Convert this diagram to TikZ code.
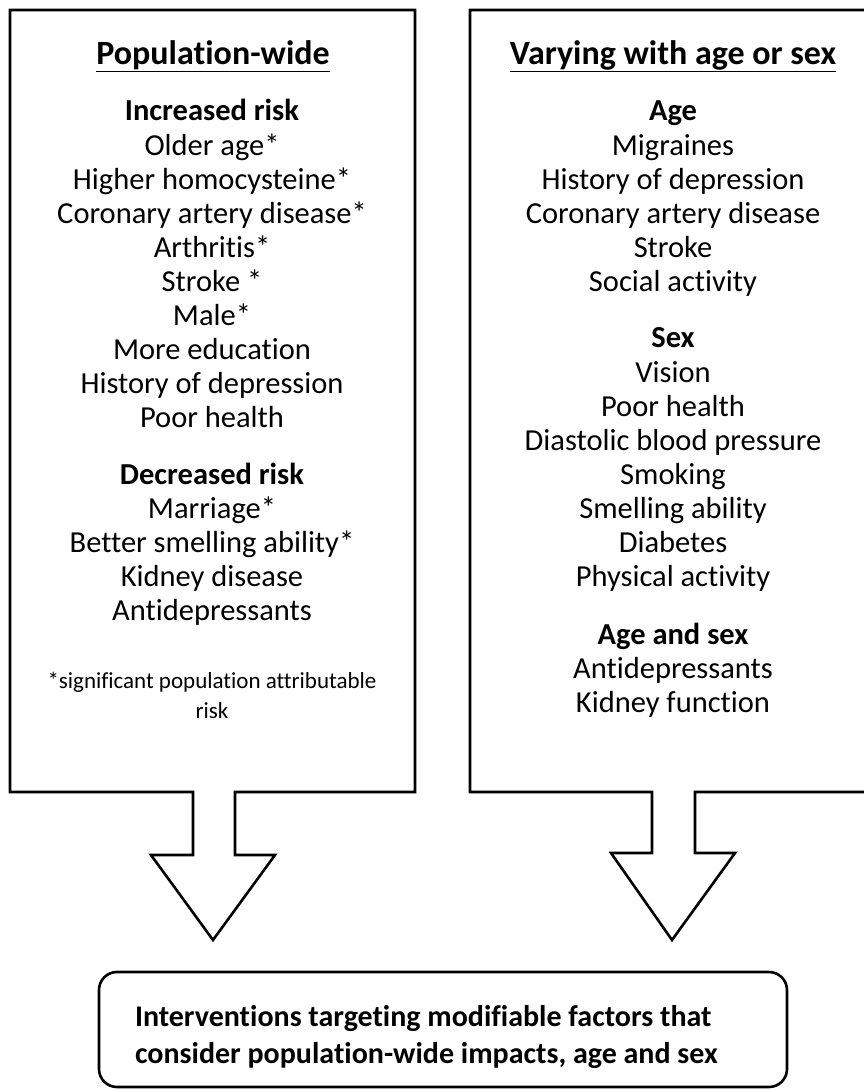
\documentclass[tikz,border=0pt]{standalone}
\usepackage{fontspec}
\setmainfont{Carlito}[Ligatures=NoCommon]
\usetikzlibrary{positioning}

\begin{document}
\begin{tikzpicture}[x=1pt, y=-1pt,
        frame/.style={line width=2.6pt, line join=miter},
        title/.style={font=\fontsize{34}{40}\selectfont\bfseries, anchor=base},
        head/.style={font=\fontsize{30.5}{34}\selectfont\bfseries, anchor=base},
        entry/.style={font=\fontsize{30.5}{34}\selectfont, anchor=base},
        note/.style={font=\fontsize{23}{28}\selectfont, anchor=base},
        outcome/.style={draw, line width=2.6pt, rounded corners=18pt,
            minimum height=115pt, text width=616pt, inner xsep=36pt,
            align=flush left, font=\fontsize{30}{37}\selectfont\bfseries}
    ]
    \useasboundingbox (0,0) rectangle (863,1090);

    % Riquadro sinistro con freccia
    \draw[frame] (193,792) -- (10,792) -- (10,10) -- (415,10) -- (415,792)
        -- (235,792) -- (235,855) -- (275,855) -- (213,940) -- (151,855)
        -- (193,855) -- cycle;

    % Riquadro destro con freccia
    \draw[frame] (652,792) -- (470,792) -- (470,10) -- (876,10) -- (876,792)
        -- (695,792) -- (695,853) -- (735,853) -- (672,940) -- (611,853)
        -- (652,853) -- cycle;

    % Titoli
    \node[title] (popT) at (213,64) {\underline{Population-wide}};
    \node[title] (varT) at (673,64) {\underline{Varying with age or sex}};

    % Rischio aumentato
    \node[head] (incH) at (212,120) {Increased risk};
    \foreach \txt [count=\i from 0] in {Older age*, Higher homocysteine*,
        Coronary artery disease*, Arthritis*, Stroke *, Male*, More education,
        History of depression, Poor health}
        \node[entry] (inc\i) at (212,155+34*\i) {\txt};

    % Rischio diminuito
    \node[head] (decH) at (212,484) {Decreased risk};
    \foreach \txt [count=\i from 0] in {Marriage*, Better smelling ability*,
        Kidney disease, Antidepressants}
        \node[entry] (dec\i) at (212,518+34*\i) {\txt};

    % Nota
    \node[note] (note1) at (212,688) {*significant population attributable};
    \node[note] (note2) at (212,718) {risk};

    % Eta
    \node[head] (ageH) at (673,120) {Age};
    \foreach \txt [count=\i from 0] in {Migraines, History of depression,
        Coronary artery disease, Stroke, Social activity}
        \node[entry] (age\i) at (673,155+34*\i) {\txt};

    % Sesso
    \node[head] (sexH) at (673,347) {Sex};
    \foreach \txt [count=\i from 0] in {Vision, Poor health,
        Diastolic blood pressure, Smoking, Smelling ability, Diabetes,
        Physical activity}
        \node[entry] (sex\i) at (673,382+34*\i) {\txt};

    % Eta e sesso
    \node[head] (bothH) at (673,644) {Age and sex};
    \foreach \txt [count=\i from 0] in {Antidepressants, Kidney function}
        \node[entry] (both\i) at (673,678+34*\i) {\txt};

    % Interventi
    \node[outcome] (goal) at (443,1029.5) {\rule{0pt}{36pt}Interventions targeting modifiable factors that\\
        consider population-wide impacts, age and sex};
\end{tikzpicture}
\end{document}
